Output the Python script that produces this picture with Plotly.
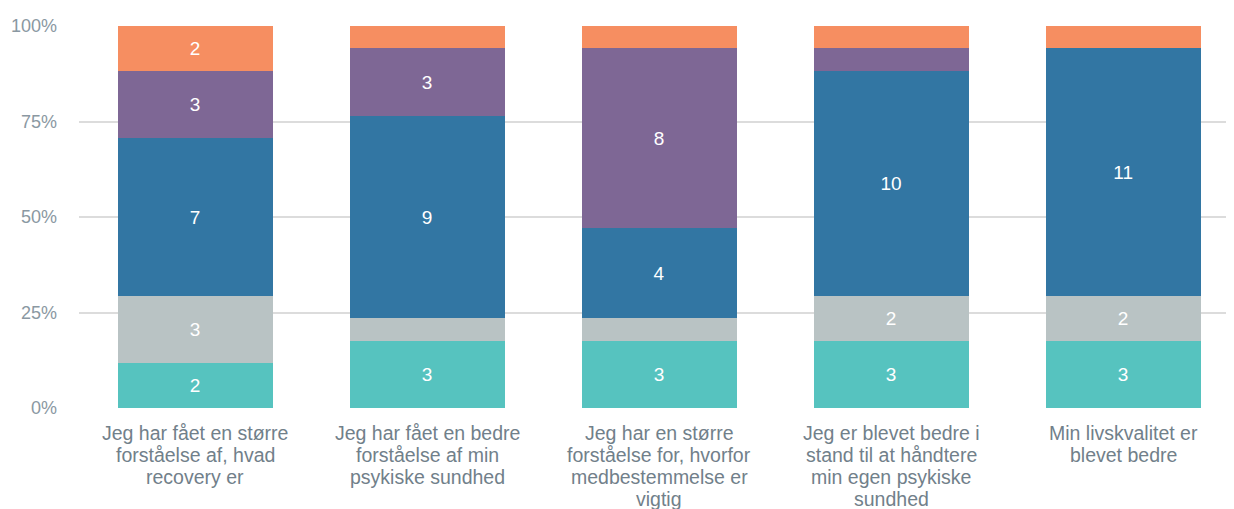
import plotly.graph_objects as go

categories = [
    "Jeg har fået en større<br>forståelse af, hvad<br>recovery er",
    "Jeg har fået en bedre<br>forståelse af min<br>psykiske sundhed",
    "Jeg har en større<br>forståelse for, hvorfor<br>medbestemmelse er<br>vigtig",
    "Jeg er blevet bedre i<br>stand til at håndtere<br>min egen psykiske<br>sundhed",
    "Min livskvalitet er<br>blevet bedre",
]
teal_vals = [2, 3, 3, 3, 3]
gray_vals = [3, 1, 1, 2, 2]
blue_vals = [7, 9, 4, 10, 11]
purple_vals = [3, 3, 8, 1, 0]
orange_vals = [2, 1, 1, 1, 1]
y_tickvals = [0, 25, 50, 75, 100]
y_ticktext = ["0%", "25%", "50%", "75%", "100%"]

series = [
    ("teal", teal_vals, "#56C3BF"),
    ("gray", gray_vals, "#B9C3C4"),
    ("blue", blue_vals, "#3276A3"),
    ("purple", purple_vals, "#7E6795"),
    ("orange", orange_vals, "#F68E61"),
]

FONT = "Liberation Sans, Arial"

fig = go.Figure()
for name, vals, color in series:
    fig.add_trace(go.Bar(
        x=list(range(len(categories))),
        y=vals,
        name=name,
        marker=dict(color=color, line=dict(width=0)),
        text=[str(v) if v >= 2 else "" for v in vals],
        textposition="inside",
        insidetextanchor="middle",
        textangle=0,
        constraintext="none",
        textfont=dict(color="white", size=19, family=FONT),
        hoverinfo="skip",
    ))

# category labels, one annotation per line for tighter line spacing
first_offset = 25
line_gap = 22
for i, cat in enumerate(categories):
    for j, line in enumerate(cat.split("<br>")):
        fig.add_annotation(
            x=i, y=0, xref="x", yref="paper",
            text=line, showarrow=False,
            xanchor="center", yanchor="middle",
            yshift=-(first_offset + line_gap * j),
            font=dict(size=19.5, color="#71808a", family=FONT),
        )

# page body has an 8px default margin; compensate so the plot sits where the reference is
fig.update_layout(
    barmode="stack",
    barnorm="percent",
    bargap=0.332,
    width=1226,
    height=501,
    margin=dict(l=71, r=0, t=18, b=101),
    paper_bgcolor="white",
    plot_bgcolor="white",
    showlegend=False,
    font=dict(family=FONT, size=18, color="#7b8790"),
)
fig.update_xaxes(
    range=[-0.5, 4.478],
    tickvals=list(range(len(categories))),
    showticklabels=False,
    showgrid=False,
    zeroline=False,
    showline=False,
    ticks="",
    automargin=False,
)
fig.update_yaxes(
    range=[0, 100],
    tickvals=y_tickvals,
    ticktext=y_ticktext,
    showgrid=True,
    gridcolor="#dcdcdc",
    gridwidth=1.5,
    zeroline=False,
    showline=False,
    ticks="",
    automargin=False,
    ticklabelstandoff=21,
    tickfont=dict(size=18, color="#8a98a2"),
)

fig.write_html("out.html")
